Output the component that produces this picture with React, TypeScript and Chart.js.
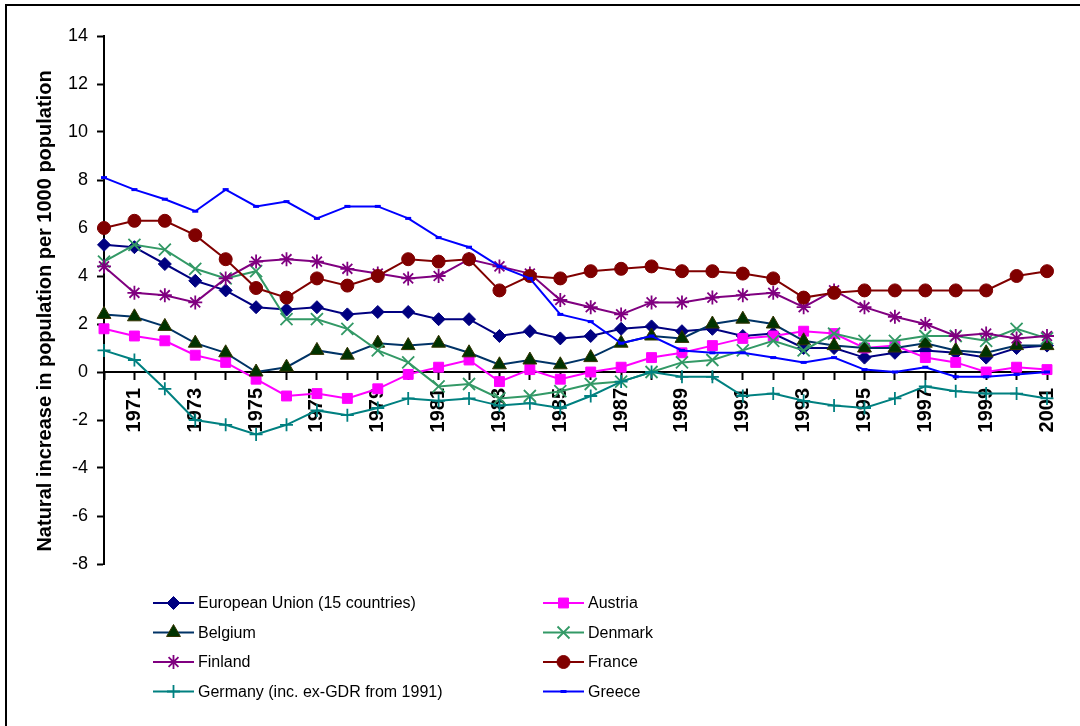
import React, { useEffect, useRef } from 'react';
import { Chart, registerables } from 'chart.js';
import { drawPoint } from 'chart.js/helpers';

Chart.register(...registerables);

const years = [
  '1970', '1971', '1972', '1973', '1974', '1975', '1976', '1977', '1978', '1979',
  '1980', '1981', '1982', '1983', '1984', '1985', '1986', '1987', '1988', '1989',
  '1990', '1991', '1992', '1993', '1994', '1995', '1996', '1997', '1998', '1999',
  '2000', '2001',
];

const euValues = [5.3, 5.2, 4.5, 3.8, 3.4, 2.7, 2.6, 2.7, 2.4, 2.5, 2.5, 2.2, 2.2, 1.5, 1.7, 1.4, 1.5, 1.8, 1.9, 1.7, 1.8, 1.5, 1.6, 1.0, 1.0, 0.6, 0.8, 0.9, 0.8, 0.6, 1.0, 1.1];
const austriaValues = [1.8, 1.5, 1.3, 0.7, 0.4, -0.3, -1.0, -0.9, -1.1, -0.7, -0.1, 0.2, 0.5, -0.4, 0.1, -0.3, 0.0, 0.2, 0.6, 0.8, 1.1, 1.4, 1.5, 1.7, 1.6, 1.0, 1.1, 0.6, 0.4, 0.0, 0.2, 0.1];
const belgiumValues = [2.4, 2.3, 1.9, 1.2, 0.8, 0.0, 0.2, 0.9, 0.7, 1.2, 1.1, 1.2, 0.8, 0.3, 0.5, 0.3, 0.6, 1.2, 1.5, 1.4, 2.0, 2.2, 2.0, 1.3, 1.1, 1.0, 1.0, 1.2, 0.9, 0.8, 1.1, 1.1];
const denmarkValues = [4.6, 5.3, 5.1, 4.3, 3.9, 4.2, 2.2, 2.2, 1.8, 0.9, 0.4, -0.6, -0.5, -1.1, -1.0, -0.8, -0.5, -0.4, 0.0, 0.4, 0.5, 0.9, 1.3, 0.9, 1.6, 1.3, 1.3, 1.5, 1.5, 1.3, 1.8, 1.4];
const finlandValues = [4.4, 3.3, 3.2, 2.9, 3.9, 4.6, 4.7, 4.6, 4.3, 4.1, 3.9, 4.0, 4.7, 4.4, 4.1, 3.0, 2.7, 2.4, 2.9, 2.9, 3.1, 3.2, 3.3, 2.7, 3.4, 2.7, 2.3, 2.0, 1.5, 1.6, 1.4, 1.5];
const franceValues = [6.0, 6.3, 6.3, 5.7, 4.7, 3.5, 3.1, 3.9, 3.6, 4.0, 4.7, 4.6, 4.7, 3.4, 4.0, 3.9, 4.2, 4.3, 4.4, 4.2, 4.2, 4.1, 3.9, 3.1, 3.3, 3.4, 3.4, 3.4, 3.4, 3.4, 4.0, 4.2];
const germanyValues = [0.9, 0.5, -0.7, -2.0, -2.2, -2.6, -2.2, -1.6, -1.8, -1.5, -1.1, -1.2, -1.1, -1.4, -1.3, -1.5, -1.0, -0.4, 0.0, -0.2, -0.2, -1.0, -0.9, -1.2, -1.4, -1.5, -1.1, -0.6, -0.8, -0.9, -0.9, -1.1];
const greeceValues = [8.1, 7.6, 7.2, 6.7, 7.6, 6.9, 7.1, 6.4, 6.9, 6.9, 6.4, 5.6, 5.2, 4.4, 3.9, 2.4, 2.1, 1.2, 1.5, 0.9, 0.8, 0.8, 0.6, 0.4, 0.6, 0.1, 0.0, 0.2, -0.2, -0.2, -0.1, 0.0];

const seriesNames = [
  'European Union (15 countries)',
  'Austria',
  'Belgium',
  'Denmark',
  'Finland',
  'France',
  'Germany (inc. ex-GDR from 1991)',
  'Greece',
];

const yTitle = 'Natural increase in population per 1000 population';

const FONT = '"Liberation Sans", Arial, Helvetica, sans-serif';

type Spec = {
  data: number[];
  line: string;
  fill: string;
  border: string;
  style: string;
  radius: number;
  pbw: number;
};

const specs: Spec[] = [
  { data: euValues, line: '#000080', fill: '#000080', border: '#000080', style: 'rectRot', radius: 6.5, pbw: 1 },
  { data: austriaValues, line: '#FF00FF', fill: '#FF00FF', border: '#FF00FF', style: 'rect', radius: 7, pbw: 1 },
  { data: belgiumValues, line: '#003366', fill: '#003300', border: '#333300', style: 'triangle', radius: 8, pbw: 1 },
  { data: denmarkValues, line: '#339966', fill: '#339966', border: '#339966', style: 'crossRot', radius: 8.5, pbw: 1.8 },
  { data: finlandValues, line: '#800080', fill: '#800080', border: '#800080', style: 'star', radius: 7, pbw: 1.8 },
  { data: franceValues, line: '#800000', fill: '#800000', border: '#800000', style: 'circle', radius: 6.5, pbw: 1 },
  { data: germanyValues, line: '#008080', fill: '#008080', border: '#008080', style: 'cross', radius: 6.5, pbw: 1.8 },
  { data: greeceValues, line: '#0000FF', fill: '#0000FF', border: '#0000FF', style: 'line', radius: 3, pbw: 3 },
];

const framePlugin = {
  id: 'frame',
  beforeDraw(chart: any) {
    const ctx = chart.ctx;
    ctx.save();
    ctx.fillStyle = '#ffffff';
    ctx.fillRect(0, 0, chart.width, chart.height);
    ctx.strokeStyle = '#000000';
    ctx.lineWidth = 2;
    ctx.beginPath();
    ctx.moveTo(6, chart.height);
    ctx.lineTo(6, 5);
    ctx.lineTo(chart.width, 5);
    ctx.stroke();
    ctx.restore();
  },
};

const yTitlePlugin = {
  id: 'yTitle',
  afterDraw(chart: any) {
    const ctx = chart.ctx;
    ctx.save();
    ctx.translate(45, 311);
    ctx.rotate(-Math.PI / 2);
    ctx.fillStyle = '#000000';
    ctx.font = `bold 20px ${FONT}`;
    ctx.textAlign = 'center';
    ctx.textBaseline = 'middle';
    ctx.fillText(yTitle, 0, 0);
    ctx.restore();
  },
};

const legendPlugin = {
  id: 'customLegend',
  afterDraw(chart: any) {
    const ctx = chart.ctx;
    const colX = [153, 543];
    const rowY = [603, 632.5, 662, 691.5];
    ctx.save();
    chart.data.datasets.forEach((ds: any, i: number) => {
      const x = colX[i % 2];
      const y = rowY[Math.floor(i / 2)];
      ctx.strokeStyle = ds.borderColor;
      ctx.lineWidth = 2;
      ctx.beginPath();
      ctx.moveTo(x, y);
      ctx.lineTo(x + 41, y);
      ctx.stroke();
      ctx.fillStyle = ds.pointBackgroundColor;
      ctx.strokeStyle = ds.pointBorderColor;
      ctx.lineWidth = ds.pointBorderWidth;
      drawPoint(ctx, { pointStyle: ds.pointStyle, radius: ds.pointRadius, rotation: 0, borderWidth: ds.pointBorderWidth } as any, x + 20.5, y);
      ctx.fillStyle = '#000000';
      ctx.font = `16px ${FONT}`;
      ctx.textAlign = 'left';
      ctx.textBaseline = 'middle';
      ctx.fillText(ds.label, x + 45, y + 1);
    });
    ctx.restore();
  },
};

export default function App() {
  const ref = useRef<HTMLCanvasElement>(null);

  useEffect(() => {
    document.body.style.margin = '0';
    const canvas = ref.current;
    if (!canvas) return;
    const chart = new Chart(canvas, {
      type: 'line',
      data: {
        labels: years,
        datasets: specs.map((s, i) => ({
          label: seriesNames[i],
          data: s.data,
          borderColor: s.line,
          backgroundColor: s.fill,
          pointBackgroundColor: s.fill,
          pointBorderColor: s.border,
          pointStyle: s.style as any,
          pointRadius: s.radius,
          pointBorderWidth: s.pbw,
          borderWidth: 2,
          tension: 0,
          fill: false,
          order: specs.length - i,
        })),
      },
      options: {
        responsive: false,
        animation: false,
        devicePixelRatio: 1,
        layout: { padding: { top: 36, right: 30, bottom: 162, left: 0 } },
        plugins: {
          legend: { display: false },
          tooltip: { enabled: false },
          title: { display: false },
        },
        scales: {
          x: {
            type: 'category',
            position: { y: 0 } as any,
            offset: false,
            grid: {
              drawOnChartArea: false,
              drawTicks: true,
              tickLength: 7,
              tickColor: '#000000',
              tickWidth: 2,
            },
            border: { display: true, color: '#000000', width: 2 },
            ticks: {
              autoSkip: false,
              maxRotation: 90,
              minRotation: 90,
              padding: 9,
              color: '#000000',
              font: { family: FONT, size: 20, weight: 'bold' },
              callback: function (this: any, v: any, i: number) {
                return i % 2 === 1 ? this.getLabelForValue(v) : '';
              },
            },
          },
          y: {
            type: 'linear',
            min: -8,
            max: 14,
            ticks: {
              stepSize: 2,
              padding: 9,
              color: '#000000',
              font: { family: FONT, size: 18 },
            },
            grid: {
              drawOnChartArea: false,
              drawTicks: true,
              tickLength: 7,
              tickColor: '#000000',
              tickWidth: 2,
            },
            border: { display: true, color: '#000000', width: 2 },
            afterFit: (scale: any) => {
              scale.width = 104;
            },
          },
        },
      },
      plugins: [framePlugin, yTitlePlugin, legendPlugin],
    });
    return () => chart.destroy();
  }, []);

  return (
    <div style={{ position: 'absolute', left: 0, top: 0, width: 1080, height: 726, background: '#fff' }}>
      <canvas ref={ref} width={1080} height={726} style={{ display: 'block' }} />
    </div>
  );
}
